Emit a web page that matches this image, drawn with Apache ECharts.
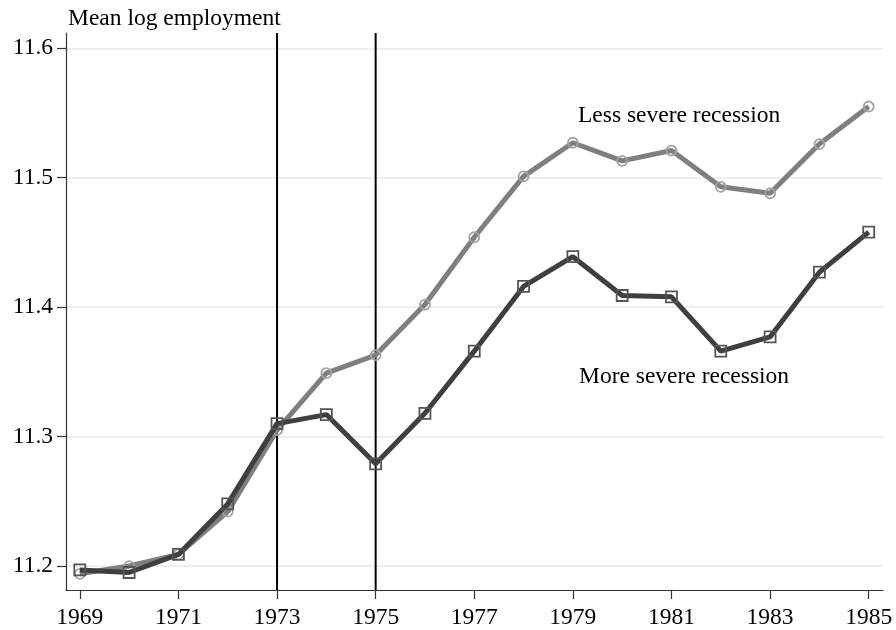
<!DOCTYPE html>
<html>
<head>
<meta charset="utf-8">
<script src="https://cdn.jsdelivr.net/npm/echarts@6/dist/echarts.min.js"></script>
<style>
  html, body { margin: 0; padding: 0; background: #fff; }
  #chart { width: 896px; height: 630px; }
</style>
</head>
<body>
<div id="chart"></div>
<script>
// Years observed and mean log employment for the two groups of areas
const years = [1969, 1970, 1971, 1972, 1973, 1974, 1975, 1976, 1977,
               1978, 1979, 1980, 1981, 1982, 1983, 1984, 1985];
const lessSevere = [11.194, 11.200, 11.209, 11.242, 11.305, 11.349, 11.363, 11.402, 11.454,
                    11.501, 11.527, 11.513, 11.521, 11.493, 11.488, 11.526, 11.555];
const moreSevere = [11.197, 11.195, 11.209, 11.248, 11.310, 11.317, 11.279, 11.318, 11.366,
                    11.416, 11.439, 11.409, 11.408, 11.366, 11.377, 11.427, 11.458];

// Axis ticks and reference lines
const xTicks = [1969, 1971, 1973, 1975, 1977, 1979, 1981, 1983, 1985];
const yTicks = [11.2, 11.3, 11.4, 11.5, 11.6];
const recessionYears = [1973, 1975];

const FONT = '"Liberation Serif", "Times New Roman", serif';
const X_MIN = 1968.72, X_MAX = 1985.29;
const Y_MIN = 11.1815, Y_MAX = 11.6118;

const pairs = (ys) => years.map((y, i) => [y, ys[i]]);

// one full-height vertical rule per recession year
const recessionSeries = recessionYears.map((yr) => ({
  type: 'line',
  z: 1,
  silent: true,
  symbol: 'none',
  data: [[yr, Y_MIN], [yr, Y_MAX]],
  lineStyle: { color: '#000', width: 2 }
}));

const chart = echarts.init(document.getElementById('chart'), null, { renderer: 'canvas' });

chart.setOption({
  animation: false,
  backgroundColor: '#ffffff',
  grid: { left: 66, right: 13, top: 33, bottom: 40, containLabel: false },
  xAxis: {
    type: 'value',
    min: X_MIN,
    max: X_MAX,
    axisLine: { show: true, lineStyle: { color: '#333', width: 1.2 } },
    axisTick: { show: true, length: 9, lineStyle: { color: '#333', width: 1.2 }, customValues: xTicks },
    axisLabel: {
      customValues: xTicks,
      color: '#000',
      fontFamily: FONT,
      fontSize: 23.5,
      margin: 16,
      formatter: (v) => String(Math.round(v))
    },
    splitLine: { show: false }
  },
  yAxis: {
    type: 'value',
    min: Y_MIN,
    max: Y_MAX,
    axisLine: { show: true, lineStyle: { color: '#333', width: 1.2 } },
    axisTick: { show: true, length: 9, lineStyle: { color: '#333', width: 1.2 }, customValues: yTicks },
    axisLabel: {
      customValues: yTicks,
      color: '#000',
      fontFamily: FONT,
      fontSize: 23.5,
      margin: 13,
      formatter: (v) => v.toFixed(1)
    },
    splitLine: { show: true, lineStyle: { color: '#eaf1f3', width: 2 } }
  },
  graphic: [
    {
      type: 'text',
      left: 68,
      top: 7,
      style: { text: 'Mean log employment', fill: '#000', font: '23.5px ' + FONT }
    },
    {
      type: 'text',
      left: 578,
      top: 104,
      style: { text: 'Less severe recession', fill: '#000', font: '23.5px ' + FONT }
    },
    {
      type: 'text',
      left: 579,
      top: 365,
      style: { text: 'More severe recession', fill: '#000', font: '23.5px ' + FONT }
    }
  ],
  series: [
    ...recessionSeries,
    {
      name: 'Less severe recession',
      type: 'line',
      z: 3,
      data: pairs(lessSevere),
      symbol: 'circle',
      symbolSize: 10,
      showAllSymbol: true,
      lineStyle: { color: '#7f7f7f', width: 5 },
      itemStyle: { color: 'rgba(0,0,0,0)', borderColor: '#a3a3a3', borderWidth: 1.8 }
    },
    {
      name: 'More severe recession',
      type: 'line',
      z: 4,
      data: pairs(moreSevere),
      symbol: 'rect',
      symbolSize: 11,
      showAllSymbol: true,
      lineStyle: { color: '#3f3f3f', width: 5 },
      itemStyle: { color: 'rgba(0,0,0,0)', borderColor: '#555555', borderWidth: 1.8 }
    }
  ]
});
</script>
</body>
</html>
